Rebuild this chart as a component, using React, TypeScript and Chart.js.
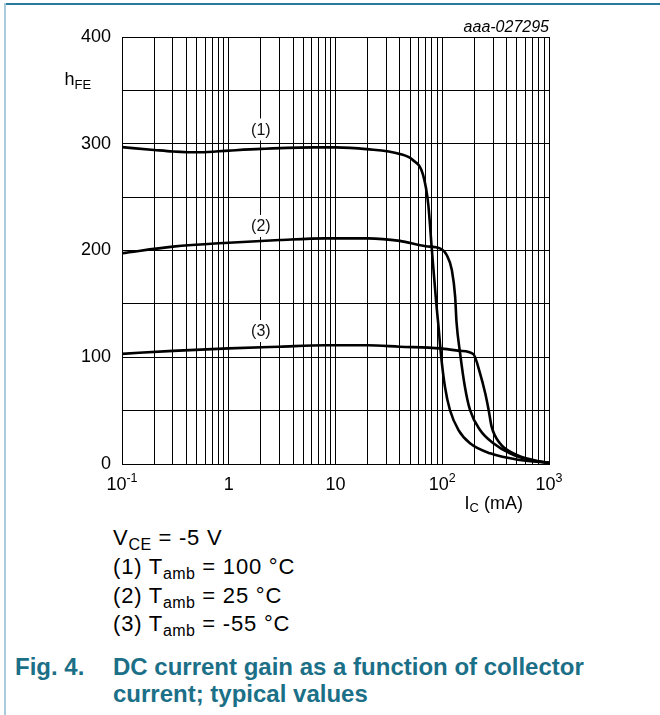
import React, { useEffect, useRef } from 'react';
import { Chart, registerables } from 'chart.js';

Chart.register(...registerables);

// Curve (1) Tamb = 100 °C
const ic1 = [0.1, 0.2, 0.3, 0.54, 1, 2, 6.2, 10, 19.5, 40, 53, 66, 74, 80, 88, 92, 97, 106, 118, 142, 182, 281, 536, 1000];
const hfe1 = [296.8, 294.2, 292.8, 292, 293.6, 295.2, 296.6, 296.6, 295, 290.5, 284.8, 271, 243, 200, 150, 130, 103.7, 72.4, 50.6, 31.8, 19.4, 10, 3.7, 1.2];

// Curve (2) Tamb = 25 °C
const ic2 = [0.1, 0.3, 1, 3, 8, 20, 40, 70, 95, 110, 123, 132, 136, 147, 163, 182, 226, 301, 431, 664, 1000];
const hfe2 = [197.4, 203.6, 207.3, 209.8, 211.4, 211.4, 209, 204, 202, 195.8, 181.7, 157, 133, 103.7, 72.4, 50.6, 31.8, 19.4, 10, 3.7, 1.2];

// Curve (3) Tamb = -55 °C
const ic3 = [0.1, 0.3, 1, 3, 8, 20, 40, 95, 147, 195, 226, 253, 272, 290, 347, 464, 710, 1000];
const hfe3 = [103.2, 106, 108.3, 109.9, 111.2, 111.2, 109.9, 108.3, 106, 103, 85, 66, 50.6, 35, 19.4, 10, 3.7, 1.2];

const xMajorTicks = [0.1, 1, 10, 100, 1000];
const xTickBase = ['10', '1', '10', '10', '10'];
const xTickExp = ['-1', '', '', '2', '3'];
const xMinorMultipliers = [1, 2, 3, 4, 5, 6, 7, 8, 9];
const yTickLabels = [0, 100, 200, 300, 400];

const curveLabels = ['(1)', '(2)', '(3)'];
const curveLabelX = [2, 2, 2];
const curveLabelY = [313.4, 223, 124.6];

const FONT = "'Liberation Sans', Arial, Helvetica, sans-serif";

function toPoints(xs: number[], ys: number[]) {
  return xs.map((x, i) => ({ x, y: ys[i] }));
}

const annotationPlugin = {
  id: 'annotations',
  afterDatasetsDraw(chart: any) {
    const ctx = chart.ctx;
    const xs = chart.scales.x;
    const ys = chart.scales.y;
    ctx.save();
    ctx.font = `16px ${FONT}`;
    ctx.textAlign = 'center';
    ctx.textBaseline = 'middle';
    curveLabels.forEach((t, i) => {
      const px = xs.getPixelForValue(curveLabelX[i]);
      const py = ys.getPixelForValue(curveLabelY[i]);
      ctx.fillStyle = '#fff';
      ctx.fillRect(px - 12, py - 11, 24, 22);
      ctx.fillStyle = '#111';
      ctx.fillText(t, px, py + 1);
    });
    ctx.restore();
  },
  afterDraw(chart: any) {
    const ctx = chart.ctx;
    const xs = chart.scales.x;
    ctx.save();
    ctx.fillStyle = '#000';
    ctx.textBaseline = 'alphabetic';
    ctx.textAlign = 'left';
    xMajorTicks.forEach((v, i) => {
      const px = xs.getPixelForValue(v);
      ctx.font = `18px ${FONT}`;
      const wb = ctx.measureText(xTickBase[i]).width;
      ctx.font = `12.5px ${FONT}`;
      const we = xTickExp[i] ? ctx.measureText(xTickExp[i]).width : 0;
      const start = px - (wb + we) / 2;
      ctx.font = `18px ${FONT}`;
      ctx.fillText(xTickBase[i], start, 490);
      if (xTickExp[i]) {
        ctx.font = `12.5px ${FONT}`;
        ctx.fillText(xTickExp[i], start + wb, 482);
      }
    });
    ctx.font = `18px ${FONT}`;
    ctx.fillText('h', 64.5, 85);
    const wh = ctx.measureText('h').width;
    ctx.font = `13px ${FONT}`;
    ctx.fillText('FE', 64.5 + wh, 89);
    ctx.font = `18px ${FONT}`;
    ctx.fillText('I', 464.5, 508.5);
    const wi = ctx.measureText('I').width;
    ctx.font = `13px ${FONT}`;
    ctx.fillText('C', 464.5 + wi, 512);
    const wc = ctx.measureText('C').width;
    ctx.font = `18px ${FONT}`;
    ctx.fillText(' (mA)', 464.5 + wi + wc, 508.5);
    ctx.font = `italic 16px ${FONT}`;
    ctx.textAlign = 'right';
    ctx.fillText('aaa-027295', 549, 32);
    ctx.restore();
  },
};

function ChartCanvas() {
  const ref = useRef<HTMLCanvasElement | null>(null);
  useEffect(() => {
    if (!ref.current) return;
    const chart = new Chart(ref.current, {
      type: 'line',
      data: {
        datasets: [
          { label: '(1)', data: toPoints(ic1, hfe1) },
          { label: '(2)', data: toPoints(ic2, hfe2) },
          { label: '(3)', data: toPoints(ic3, hfe3) },
        ].map((d) => ({
          ...d,
          borderColor: '#000',
          borderWidth: 2.6,
          pointRadius: 0,
          fill: false,
          cubicInterpolationMode: 'monotone' as const,
        })),
      },
      options: {
        responsive: false,
        animation: false,
        devicePixelRatio: 1,
        layout: { padding: { top: 37, right: 111, left: 0, bottom: 0 } },
        plugins: { legend: { display: false }, tooltip: { enabled: false } },
        events: [],
        scales: {
          x: {
            type: 'logarithmic',
            min: 0.1,
            max: 1000,
            afterBuildTicks: (scale: any) => {
              const t: { value: number }[] = [];
              xMajorTicks.slice(0, -1).forEach((d) => {
                xMinorMultipliers.forEach((m) => t.push({ value: d * m }));
              });
              t.push({ value: xMajorTicks[xMajorTicks.length - 1] });
              scale.ticks = t;
            },
            afterFit: (scale: any) => {
              scale.height = 56;
            },
            ticks: { display: false, autoSkip: false },
            grid: { color: '#000', lineWidth: 1, drawTicks: false },
            border: { display: true, color: '#000', width: 1 },
          },
          y: {
            type: 'linear',
            min: 0,
            max: 400,
            afterFit: (scale: any) => {
              scale.width = 122;
            },
            ticks: {
              stepSize: 50,
              autoSkip: false,
              padding: 11,
              color: '#000',
              font: { family: FONT, size: 18 },
              callback: (v: any) => (yTickLabels.includes(Number(v)) ? String(v) : ''),
            },
            grid: { color: '#000', lineWidth: 1, drawTicks: false },
            border: { display: true, color: '#000', width: 1 },
          },
        },
      } as any,
      plugins: [annotationPlugin],
    });
    return () => chart.destroy();
  }, []);
  return (
    <canvas
      ref={ref}
      width={660}
      height={520}
      style={{ position: 'absolute', left: 0, top: 0, width: 660, height: 520 }}
    />
  );
}

const bodyLine: React.CSSProperties = {
  position: 'absolute',
  left: 113,
  fontFamily: FONT,
  fontSize: 22,
  lineHeight: '22px',
  color: '#000',
  whiteSpace: 'nowrap',
  letterSpacing: '0.8px',
};
const sub: React.CSSProperties = { fontSize: 16, position: 'relative', top: 5, letterSpacing: '0.4px' };
const caption: React.CSSProperties = {
  position: 'absolute',
  fontFamily: FONT,
  fontSize: 24,
  lineHeight: '24px',
  fontWeight: 'bold',
  color: '#1b6f87',
  whiteSpace: 'nowrap',
};

export default function App() {
  return (
    <div
      style={{
        position: 'absolute',
        left: 0,
        top: 0,
        width: 660,
        height: 715,
        background: '#fff',
        overflow: 'hidden',
      }}
    >
      <div style={{ position: 'absolute', left: 4, top: 3, width: 656, height: 1.5, background: '#2a7b9b' }} />
      <div style={{ position: 'absolute', left: 4, top: 3, width: 1.5, height: 712, background: '#a9cbdc' }} />
      <ChartCanvas />
      <div style={{ ...bodyLine, top: 527 }}>
        V<span style={sub}>CE</span> = -5 V
      </div>
      <div style={{ ...bodyLine, top: 555.7 }}>
        (1) T<span style={sub}>amb</span> = 100 °C
      </div>
      <div style={{ ...bodyLine, top: 584.7 }}>
        (2) T<span style={sub}>amb</span> = 25 °C
      </div>
      <div style={{ ...bodyLine, top: 613 }}>
        (3) T<span style={sub}>amb</span> = -55 °C
      </div>
      <div style={{ ...caption, left: 15, top: 654.7 }}>Fig. 4.</div>
      <div style={{ ...caption, left: 113, top: 654.7 }}>DC current gain as a function of collector</div>
      <div style={{ ...caption, left: 113, top: 681.7 }}>current; typical values</div>
    </div>
  );
}
